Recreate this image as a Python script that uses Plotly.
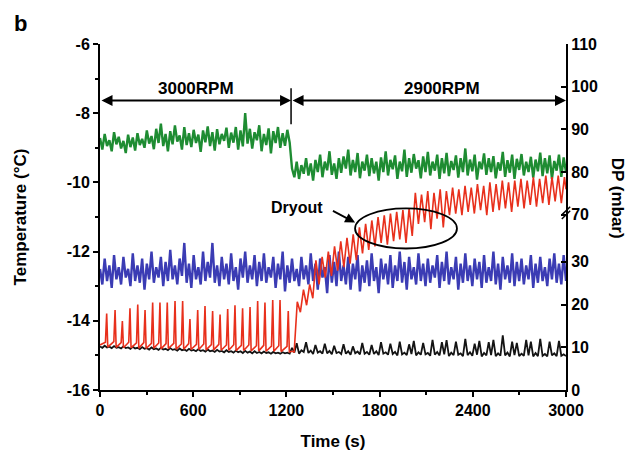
import numpy as np
import plotly.graph_objects as go

# ---------------- data ----------------
time_s = np.linspace(0, 3000, 200)

green_T = [
    -8.72, -9.05, -8.6, -8.95, -8.78, -9.1, -8.55, -8.9, -8.68, -9.02,
    -8.8, -9.15, -8.62, -8.98, -8.7, -9.08, -8.58, -8.92, -8.74, -9.0,
    -8.5, -8.88, -8.66, -9.04, -8.45, -8.86, -8.3, -8.95, -8.6, -9.1,
    -8.52, -8.9, -8.35, -8.82, -8.64, -9.05, -8.4, -8.92, -8.58, -8.98,
    -8.48, -8.86, -8.62, -9.12, -8.5, -8.84, -8.38, -8.95, -8.55, -9.08,
    -8.46, -8.9, -8.6, -8.8, -8.42, -9.0, -8.56, -8.85, -8.4, -9.05,
    -8.5, -8.96, -8.0, -8.88, -8.45, -9.02, -8.55, -8.78, -8.35, -9.1,
    -8.6, -8.92, -8.44, -9.16, -8.52, -8.86, -8.4, -9.0, -8.58, -8.94,
    -8.48, -8.85,
    -9.6, -9.85, -9.4, -9.9, -9.5, -9.75, -9.3, -9.8, -9.45, -9.95,
    -9.35, -9.7, -9.2, -9.85, -9.4, -9.65, -9.1, -9.78, -9.45, -9.9,
    -9.3, -9.72, -9.25, -9.6, -9.05, -9.8, -9.35, -9.7, -9.15, -9.88,
    -9.4, -9.66, -9.2, -9.82, -9.3, -9.74, -9.4, -9.95, -9.28, -9.7,
    -9.1, -9.8, -9.35, -9.62, -9.22, -9.9, -9.4, -9.68, -9.05, -9.84,
    -9.3, -9.72, -9.18, -9.6, -9.36, -9.88, -9.25, -9.7, -9.12, -9.8,
    -9.4, -9.66, -9.2, -9.9, -9.3, -9.74, -9.15, -9.82, -9.38, -9.64,
    -9.22, -9.86, -9.3, -9.7, -9.02, -9.8, -9.34, -9.68, -9.2, -9.92,
    -9.4, -9.62, -9.16, -9.78, -9.3, -9.7, -9.24, -9.88, -9.42, -9.66,
    -9.12, -9.84, -9.36, -9.72, -9.2, -9.9, -9.32, -9.64, -9.18, -9.8,
    -9.4, -9.7, -9.26, -9.86, -9.34, -9.68, -9.14, -9.82, -9.3, -9.74,
    -9.22, -9.9, -9.38, -9.66, -9.2, -9.84, -9.28, -9.7,
]

blue_T = [
    -12.5, -12.95, -12.2, -12.85, -12.4, -13.05, -12.1, -12.8, -12.45, -12.95,
    -12.15, -12.75, -12.5, -13.0, -12.05, -12.85, -12.4, -12.9, -12.2, -13.1,
    -12.35, -12.8, -12.0, -12.9, -12.45, -12.75, -12.15, -13.0, -12.3, -12.85,
    -11.95, -12.8, -12.4, -12.95, -12.2, -12.7, -11.75, -12.9, -12.35, -13.05,
    -12.1, -12.8, -12.45, -12.95, -12.0, -12.85, -12.3, -12.75, -11.75, -12.9,
    -12.4, -13.0, -12.15, -12.8, -12.35, -12.95, -12.05, -12.85, -12.45, -13.1,
    -12.2, -12.75, -12.0, -12.9, -12.4, -12.8, -12.1, -13.0, -12.3, -12.85,
    -12.05, -12.9, -12.45, -12.75, -12.15, -13.05, -12.35, -12.8, -12.0, -13.15,
    -12.4, -12.9, -12.2, -12.85, -12.5, -13.0, -12.15, -12.8, -12.4, -12.95,
    -12.05, -12.85, -12.35, -13.1, -12.2, -12.75, -12.45, -13.2, -12.1, -12.9,
    -12.3, -13.0, -12.0, -12.85, -12.4, -12.95, -12.15, -13.1, -12.35, -12.8,
    -12.1, -13.15, -12.4, -12.9, -12.25, -13.0, -12.05, -12.85, -12.45, -13.2,
    -12.2, -12.8, -12.35, -12.95, -12.1, -13.05, -12.4, -12.85, -12.0, -12.9,
    -12.3, -13.1, -12.15, -12.8, -12.45, -12.95, -12.05, -12.85, -12.35, -13.0,
    -12.2, -12.9, -12.4, -12.75, -12.1, -13.05, -12.3, -12.85, -12.0, -12.95,
    -12.45, -12.8, -12.15, -13.1, -12.35, -12.9, -12.05, -12.85, -12.4, -13.0,
    -12.2, -12.8, -12.3, -13.05, -12.1, -12.9, -12.45, -12.85, -12.0, -12.95,
    -12.35, -13.1, -12.15, -12.8, -12.4, -12.9, -12.05, -13.0, -12.3, -12.85,
    -12.2, -12.95, -12.4, -12.8, -12.1, -13.05, -12.35, -12.9, -12.15, -12.85,
    -12.45, -13.0, -12.2, -12.8, -12.05, -12.9, -12.35, -12.95, -12.1, -12.85,
]

black_T = [
    -14.74, -14.78, -14.72, -14.77, -14.75, -14.79, -14.73, -14.78, -14.76, -14.8,
    -14.74, -14.79, -14.77, -14.81, -14.75, -14.8, -14.78, -14.82, -14.76, -14.81,
    -14.79, -14.83, -14.77, -14.82, -14.8, -14.84, -14.78, -14.83, -14.81, -14.85,
    -14.79, -14.84, -14.82, -14.86, -14.8, -14.85, -14.83, -14.87, -14.81, -14.86,
    -14.84, -14.88, -14.82, -14.87, -14.85, -14.89, -14.83, -14.88, -14.86, -14.9,
    -14.84, -14.89, -14.87, -14.91, -14.85, -14.9, -14.88, -14.92, -14.86, -14.91,
    -14.88, -14.93, -14.87, -14.92, -14.89, -14.94, -14.88, -14.93, -14.9, -14.94,
    -14.89, -14.93, -14.91, -14.95, -14.9, -14.94, -14.92, -14.95, -14.91, -14.94,
    -14.92, -14.95,
    -14.78, -14.92, -14.65, -14.95, -14.85, -14.9, -14.62, -14.93, -14.86, -14.96,
    -14.7, -14.92, -14.88, -14.95, -14.66, -14.94, -14.87, -14.97, -14.72, -14.93,
    -14.9, -14.96, -14.68, -14.95, -14.88, -14.98, -14.74, -14.94, -14.89, -14.97,
    -14.64, -14.95, -14.9, -14.98, -14.7, -14.96, -14.88, -14.99, -14.62, -14.95,
    -14.91, -14.98, -14.66, -14.96, -14.9, -15.0, -14.6, -14.97, -14.92, -14.99,
    -14.68, -14.96, -14.58, -15.0, -14.91, -14.98, -14.64, -14.97, -14.93, -15.01,
    -14.55, -14.98, -14.9, -15.0, -14.62, -14.97, -14.56, -15.02, -14.92, -14.99,
    -14.6, -14.98, -14.94, -15.02, -14.52, -14.99, -14.91, -15.01, -14.66, -14.98,
    -14.58, -15.03, -14.93, -15.0, -14.62, -14.99, -14.55, -15.02, -14.94, -15.01,
    -14.42, -15.0, -14.92, -15.03, -14.6, -14.99, -14.64, -15.02, -14.95, -15.01,
    -14.55, -15.0, -14.6, -15.03, -14.93, -15.02, -14.52, -15.01, -14.96, -15.03,
    -14.6, -15.0, -14.94, -15.02, -14.58, -15.01, -14.97, -15.02,
]

# red: spiky phase at 3000 RPM, then rising oscillation at 2900 RPM
red_t = [
    0,
    35, 43, 50, 89, 97, 104, 136, 144, 151, 185, 193, 200, 235, 243, 250,
    282, 290, 297, 331, 339, 346, 378, 386, 393, 425, 433, 440, 475, 483, 490,
    524, 532, 539, 571, 579, 586, 621, 629, 636, 668, 676, 683, 717, 725, 732,
    765, 773, 780, 814, 822, 829, 861, 869, 876, 910, 918, 925, 958, 966, 973,
    1007, 1015, 1022, 1054, 1062, 1069, 1104, 1112, 1119, 1151, 1159, 1166,
    1204, 1212, 1219, 1236, 1250,
    1270, 1290, 1310, 1330, 1350, 1370, 1390, 1410, 1430, 1450,
    1470, 1490, 1510, 1530, 1550, 1570, 1590, 1610, 1630, 1650,
    1670, 1690, 1710, 1730, 1750, 1770, 1790, 1810, 1830, 1850,
    1870, 1890, 1910, 1930, 1950, 1970, 1990, 2010, 2030, 2050,
    2070, 2090, 2110, 2130, 2150, 2170, 2190, 2210, 2230, 2250,
    2270, 2290, 2310, 2330, 2350, 2370, 2390, 2410, 2430, 2450,
    2470, 2490, 2510, 2530, 2550, 2570, 2590, 2610, 2630, 2650,
    2670, 2690, 2710, 2730, 2750, 2770, 2790, 2810, 2830, 2850,
    2870, 2890, 2910, 2930, 2950, 2970, 2990, 3000,
]
red_T = [
    -14.7,
    -14.62, -13.79, -14.76, -14.6, -13.69, -14.77, -14.63, -14.01, -14.78,
    -14.62, -13.64, -14.78, -14.64, -13.53, -14.79, -14.63, -13.69, -14.8,
    -14.65, -13.47, -14.79, -14.64, -13.47, -14.81, -14.66, -13.47, -14.8,
    -14.65, -13.43, -14.82, -14.67, -13.43, -14.82, -14.66, -13.95, -14.83,
    -14.68, -13.69, -14.83, -14.67, -13.57, -14.84, -14.69, -13.72, -14.84,
    -14.68, -13.82, -14.85, -14.7, -13.66, -14.85, -14.69, -13.55, -14.86,
    -14.71, -13.64, -14.86, -14.7, -13.6, -14.87, -14.72, -13.43, -14.87,
    -14.71, -13.47, -14.88, -14.73, -13.4, -14.88, -14.72, -13.4, -14.89,
    -14.74, -13.72, -14.9, -14.88, -14.9,
    -13.45, -13.75, -13.1, -13.55, -12.95, -13.35, -12.25, -12.95, -12.15, -12.75,
    -12.0, -12.7, -11.85, -12.55, -11.7, -12.45, -11.6, -12.35, -11.5, -12.25,
    -11.3, -12.05, -11.2, -11.95, -11.1, -11.85, -11.0, -11.75, -10.95, -11.8,
    -10.9, -11.7, -10.85, -11.65, -10.8, -11.75, -10.75, -11.55, -10.3, -11.2,
    -10.35, -11.15, -10.25, -11.35, -10.3, -11.05, -10.2, -11.3, -10.25, -10.95,
    -10.15, -10.9, -10.2, -10.95, -10.1, -10.85, -10.15, -10.9, -10.05, -10.8,
    -10.1, -10.95, -10.0, -10.85, -10.05, -10.8, -9.95, -10.75, -10.0, -10.85,
    -9.95, -10.7, -9.9, -10.75, -9.95, -10.65, -9.85, -10.7, -9.9, -10.6,
    -9.8, -10.65, -9.85, -10.55, -9.8, -10.6, -9.85, -10.2,
]

x_ticks = [0, 600, 1200, 1800, 2400, 3000]
y_ticks = [-16, -14, -12, -10, -8, -6]
y_tick_text = ["-16", "-14", "-12", "-10", "-8", "-6"]
dp_tick_pos = [0, 10, 20, 30, 41, 51, 61, 71, 81]
dp_tick_text = ["0", "10", "20", "30", "70", "80", "90", "100", "110"]

# ---------------- figure ----------------
FONT = "Liberation Sans"
bold = lambda s: dict(family=FONT, size=s, color="black", weight="bold")

fig = go.Figure()
series = [
    (time_s, black_T, "#141414", 1.8),
    (time_s, blue_T, "#3b3cb4", 2.4),
    (time_s, green_T, "#1e8c32", 2.4),
    (red_t, red_T, "#e8301c", 1.6),
]
for xs, ys, col, w in series:
    fig.add_trace(go.Scatter(x=xs, y=ys, mode="lines",
                             line=dict(color=col, width=w),
                             showlegend=False, hoverinfo="skip"))

axis_common = dict(showgrid=False, zeroline=False, showline=True,
                   linecolor="black", linewidth=2, tickcolor="black",
                   tickwidth=1.5, automargin=False)

# the page body adds an 8 px offset, so the figure is sized to fit inside it
fig.update_layout(
    width=619, height=443,
    margin=dict(l=92, r=61, t=36, b=61, autoexpand=False),
    paper_bgcolor="white", plot_bgcolor="white",
    xaxis=dict(range=[0, 3000], tickvals=x_ticks, ticks="outside", ticklen=5,
               minor=dict(dtick=300, ticks="outside", ticklen=3, tickcolor="black"),
               tickfont=bold(16),
               title=dict(text="Time (s)", font=bold(17), standoff=17),
               **axis_common),
    xaxis2=dict(range=[0, 3000], overlaying="x", side="top", anchor="y",
                tickvals=list(range(0, 3001, 300)), ticks="inside", ticklen=4,
                showticklabels=False, **axis_common),
    yaxis=dict(range=[-16, -6], tickvals=y_ticks, ticktext=y_tick_text,
               ticks="outside", ticklen=5,
               minor=dict(dtick=1, ticks="outside", ticklen=3, tickcolor="black"),
               tickfont=bold(16),
               title=dict(text="Temperature (°C)", font=bold(17), standoff=36),
               **axis_common),
    yaxis2=dict(range=[0, 81], overlaying="y", side="right", anchor="x",
                tickvals=dp_tick_pos, ticktext=dp_tick_text, ticks="inside",
                ticklen=5, tickfont=bold(16), **axis_common),
)

# RPM double arrows and separator
for x0, x1 in [(0, 1230), (1230, 3000)]:
    fig.add_annotation(x=x1, y=-7.63, ax=x0, ay=-7.63, xref="x", yref="y",
                       axref="x", ayref="y", text="", showarrow=True,
                       arrowside="end+start", arrowhead=2, arrowsize=1.1,
                       arrowwidth=2, arrowcolor="black")
fig.add_shape(type="line", x0=1230, x1=1230, y0=-7.28, y1=-8.32,
              xref="x", yref="y", line=dict(color="black", width=1.5))
fig.add_annotation(x=615, y=-7.28, text="3000RPM", showarrow=False, font=bold(17))
fig.add_annotation(x=2200, y=-7.28, text="2900RPM", showarrow=False, font=bold(17))

# Dryout label, arrow and ellipse
fig.add_annotation(x=1268, y=-10.72, text="Dryout", showarrow=False, font=bold(16))
fig.add_annotation(x=1642, y=-11.16, ax=1490, ay=-10.8, xref="x", yref="y",
                   axref="x", ayref="y", text="", showarrow=True, arrowhead=2,
                   arrowsize=1.1, arrowwidth=1.8, arrowcolor="black")
fig.add_shape(type="circle", x0=1642, x1=2298, y0=-11.91, y1=-10.75,
              xref="x", yref="y", line=dict(color="black", width=1.8))

# axis-break marks on the DP axis
for dy in (0, -0.95):
    fig.add_shape(type="line", xref="paper", yref="y2",
                  x0=0.991, x1=1.009, y0=41.0 + dy, y1=42.9 + dy,
                  line=dict(color="black", width=1.5))

# right axis title (reads top-to-bottom)
fig.add_annotation(x=1.11, y=0.555, xref="paper", yref="paper",
                   xanchor="center", yanchor="middle",
                   text="DP (mbar)", textangle=90, showarrow=False, font=bold(17))
# panel letter
fig.add_annotation(x=-0.17, y=1.06, xref="paper", yref="paper",
                   xanchor="center", yanchor="middle",
                   text="b", showarrow=False, font=bold(22))

fig.write_html("out.html")
